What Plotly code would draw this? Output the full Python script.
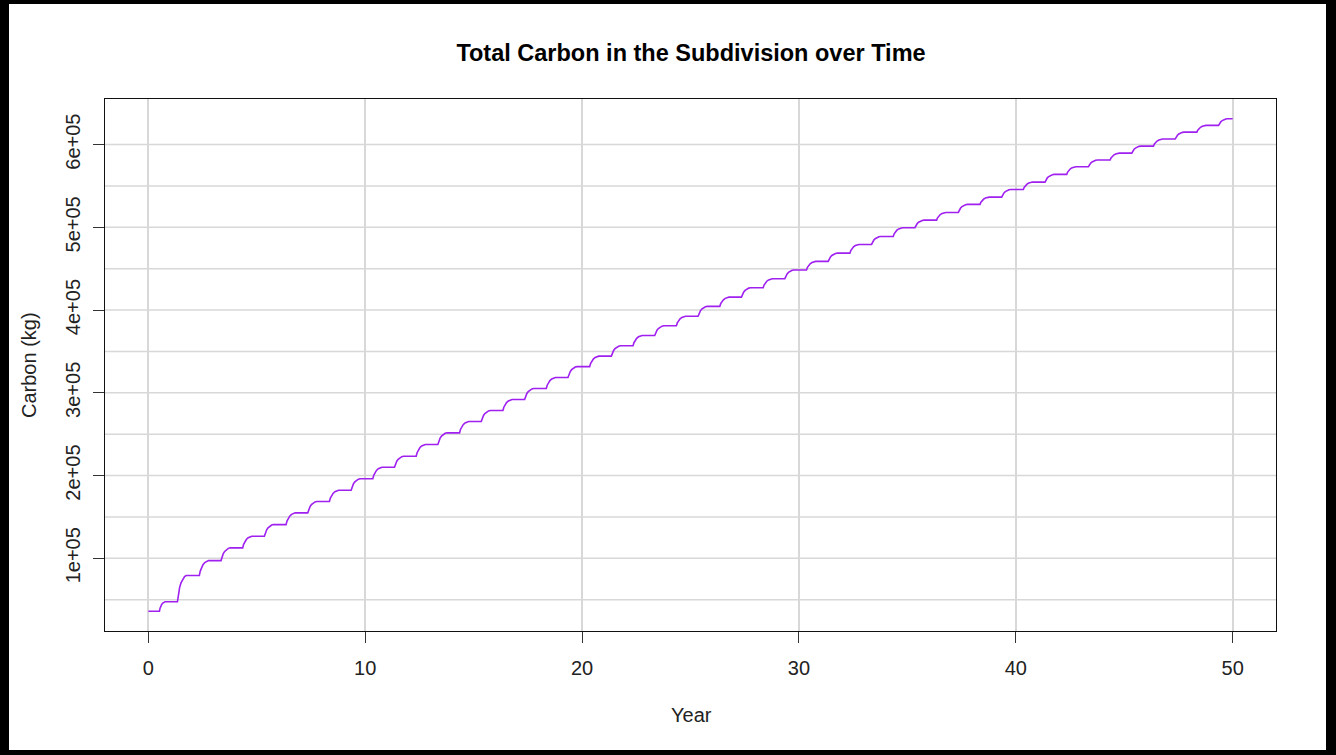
import plotly.graph_objects as go

# ---- data ----
YEARS = list(range(0, 51))
# carbon plateau reached in each year (kg)
PLATEAU_KG = [
    35900, 47400, 79100, 97200, 112600, 126600, 140700, 154900, 168600, 182200,
    196200, 210000, 223300, 237500, 251600, 265300, 278600, 291900, 305200, 318500,
    331600, 344300, 356800, 369300, 381000, 392600, 404400, 415600, 427000, 437900,
    448500, 458800, 468800, 479300, 489000, 499500, 508700, 518000, 527700, 536500,
    545800, 554700, 564000, 573300, 581300, 589700, 598200, 606700, 615100, 623200,
    631300,
]
# fraction of the year at which the growth season starts / ends (first years differ)
SEASON_START = [0.51, 0.34] + [0.35] * 48
SEASON_END = [0.77, 0.75] + [0.77] * 48
# within-season shape of the growth (share of annual increment vs share of season)
GROWTH_T = [0.0, 0.1, 0.25, 0.4, 0.6, 0.8, 1.0]
GROWTH_F = [0.0, 0.3, 0.55, 0.72, 0.87, 0.96, 1.0]

X_TICKS = [0, 10, 20, 30, 40, 50]
Y_TICKS = [100000, 200000, 300000, 400000, 500000, 600000]
Y_TICK_TEXT = ["1e+05", "2e+05", "3e+05", "4e+05", "5e+05", "6e+05"]
Y_GRID = [50000, 100000, 150000, 200000, 250000, 300000, 350000,
          400000, 450000, 500000, 550000, 600000]

# ---- build the trace from plateaus ----
xs, ys = [], []
for k in range(len(YEARS) - 1):
    y0, y1 = PLATEAU_KG[k], PLATEAU_KG[k + 1]
    if k == 0:
        xs.append(YEARS[0]); ys.append(y0)
    s = YEARS[k] + SEASON_START[k]
    e = YEARS[k] + SEASON_END[k]
    for t, f in zip(GROWTH_T, GROWTH_F):
        xs.append(s + (e - s) * t)
        ys.append(y0 + (y1 - y0) * f)
xs.append(YEARS[-1]); ys.append(PLATEAU_KG[-1])

W, H = 1336, 755
L, R, T, B = 105, 60, 99, 124
PW, PH = W - L - R, H - T - B

def px_x(px):
    return (px - L) / PW

def px_y(py):
    return (H - B - py) / PH

xmin, xmax = min(xs), max(xs)
ymin, ymax = min(ys), max(ys)
xr = [xmin - 0.04 * (xmax - xmin), xmax + 0.04 * (xmax - xmin)]
yr = [ymin - 0.04 * (ymax - ymin), ymax + 0.04 * (ymax - ymin)]

FONT = "Liberation Sans, Arial, sans-serif"
GRID_C = "#D8D8D8"

fig = go.Figure()
fig.add_trace(go.Scatter(x=xs, y=ys, mode="lines",
                         line=dict(color="#A020F0", width=1.6),
                         hoverinfo="skip", showlegend=False))

shapes = []
for g in Y_GRID:
    shapes.append(dict(type="line", xref="paper", yref="y", x0=0, x1=1, y0=g, y1=g,
                       line=dict(color=GRID_C, width=1.5), layer="below"))
# black frame around the image
frame = [(0, 0, 9, H), (0, 0, W, 4), (W - 10, 0, W, H), (0, H - 5, W, H)]
for (a, b, c, d) in frame:
    shapes.append(dict(type="rect", xref="paper", yref="paper",
                       x0=px_x(a), x1=px_x(c), y0=px_y(d), y1=px_y(b),
                       fillcolor="black", line=dict(width=0), layer="above"))

fig.update_layout(
    width=W, height=H,
    margin=dict(l=L, r=R, t=T, b=B, autoexpand=False),
    paper_bgcolor="white", plot_bgcolor="white",
    font=dict(family=FONT, size=20, color="black"),
    title=dict(text="Total Carbon in the Subdivision over Time",
               x=px_x(691), xref="paper", xanchor="center",
               y=1 - 53 / H, yref="container", yanchor="middle",
               font=dict(family=FONT, size=23.5, color="black", weight="bold")),
    shapes=shapes,
    showlegend=False,
    annotations=[
        dict(text="Year", xref="paper", yref="paper", x=px_x(691), y=px_y(715),
             xanchor="center", yanchor="middle", showarrow=False,
             font=dict(family=FONT, size=20, color="#222")),
        dict(text="Carbon (kg)", xref="paper", yref="paper", x=px_x(29), y=px_y(365),
             xanchor="center", yanchor="middle", showarrow=False, textangle=-90,
             font=dict(family=FONT, size=20, color="#222")),
    ],
)
fig.update_xaxes(range=xr, tickvals=X_TICKS, ticktext=[str(v) for v in X_TICKS],
                 ticks="outside", ticklen=11, tickwidth=1.3, tickcolor="#333",
                 showgrid=True, gridcolor=GRID_C, gridwidth=1.5, zeroline=False,
                 showline=True, mirror=True, linecolor="#111", linewidth=1.3,
                 tickfont=dict(family=FONT, size=20, color="#222"),
                 ticklabelstandoff=8, automargin=False)
fig.update_yaxes(range=yr, tickvals=Y_TICKS, ticktext=Y_TICK_TEXT, tickangle=-90,
                 ticks="outside", ticklen=11, tickwidth=1.3, tickcolor="#333",
                 showgrid=False, zeroline=False,
                 showline=True, mirror=True, linecolor="#111", linewidth=1.3,
                 tickfont=dict(family=FONT, size=20, color="#222"),
                 ticklabelstandoff=5, automargin=False)

fig.write_html("out.html")
